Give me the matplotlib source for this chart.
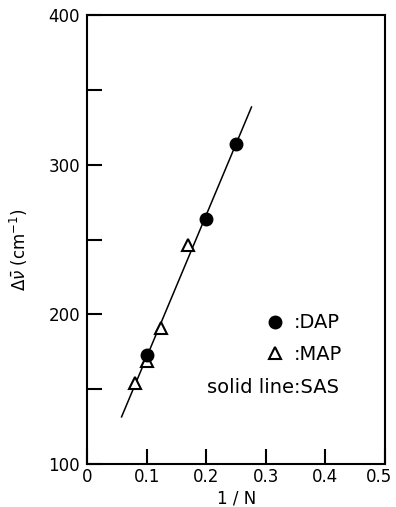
import numpy as np
import matplotlib
matplotlib.use('Agg')
import matplotlib.pyplot as plt
from matplotlib.lines import Line2D
from matplotlib.ticker import MultipleLocator
from matplotlib.transforms import ScaledTranslation

# data
dap_x = [0.10, 0.20, 0.25]
dap_y = [173, 264, 314]
map_x = [0.080, 0.100, 0.125, 0.170]
map_y = [154, 169, 191, 246]
sas_x = [0.058, 0.276]
sas_y = [131.5, 338.5]

plt.rcParams['font.family'] = ['DejaVu Sans']
plt.rcParams['mathtext.fontset'] = 'dejavusans'

fig = plt.figure(figsize=(3.96, 5.07), dpi=100)
ax = fig.add_axes([0.2197, 0.0848, 0.7525, 0.8856])

ax.plot(sas_x, sas_y, color='black', lw=1.1, zorder=2)
ax.plot(map_x, map_y, linestyle='none', marker='^', ms=9, mfc='white',
        mec='black', mew=1.5, zorder=3)
ax.plot(dap_x, dap_y, linestyle='none', marker='o', ms=9, color='black', zorder=4)

ax.set_xlim(0, 0.5)
ax.set_ylim(100, 400)

# ticks: inward, only left and bottom
ax.set_xticks([0, 0.1, 0.2, 0.3, 0.4, 0.5])
ax.set_xticklabels(['0', '0.1', '0.2', '0.3', '0.4', '0.5'])
ax.yaxis.set_major_locator(MultipleLocator(100))
ax.yaxis.set_minor_locator(MultipleLocator(50))
ax.tick_params(axis='both', which='both', direction='in', length=11, width=1.5,
               labelsize=12, top=False, right=False)
ax.tick_params(axis='x', pad=3)
ax.tick_params(axis='y', pad=5)
# last x label sits a little to the left so it stays on the page
lbl = ax.get_xticklabels()[-1]
lbl.set_transform(lbl.get_transform() + ScaledTranslation(-4 / 72, 0, fig.dpi_scale_trans))

for sp in ax.spines.values():
    sp.set_linewidth(1.5)

ax.set_xlabel('1 / N', fontsize=12)
ax.xaxis.set_label_coords(0.503, -0.057)
ax.set_ylabel(r'$\Delta\bar{\nu}$ (cm$^{-1}$)', fontsize=12)
ax.yaxis.set_label_coords(-0.19, 0.477)

# key
handles = [Line2D([], [], linestyle='none', marker='o', ms=9, color='black'),
           Line2D([], [], linestyle='none', marker='^', ms=9, mfc='white',
                  mec='black', mew=1.5)]
leg = ax.legend(handles, [':DAP', ':MAP'], loc='center left', frameon=False,
                bbox_to_anchor=(0.565, 0.2795), fontsize=14, handlelength=1.0,
                handletextpad=0.45, labelspacing=0.62, borderpad=0)
ax.text(0.846, 0.1715, 'solid line:SAS', transform=ax.transAxes, fontsize=14,
        ha='right', va='center')

fig.savefig('out.png', dpi=100)
